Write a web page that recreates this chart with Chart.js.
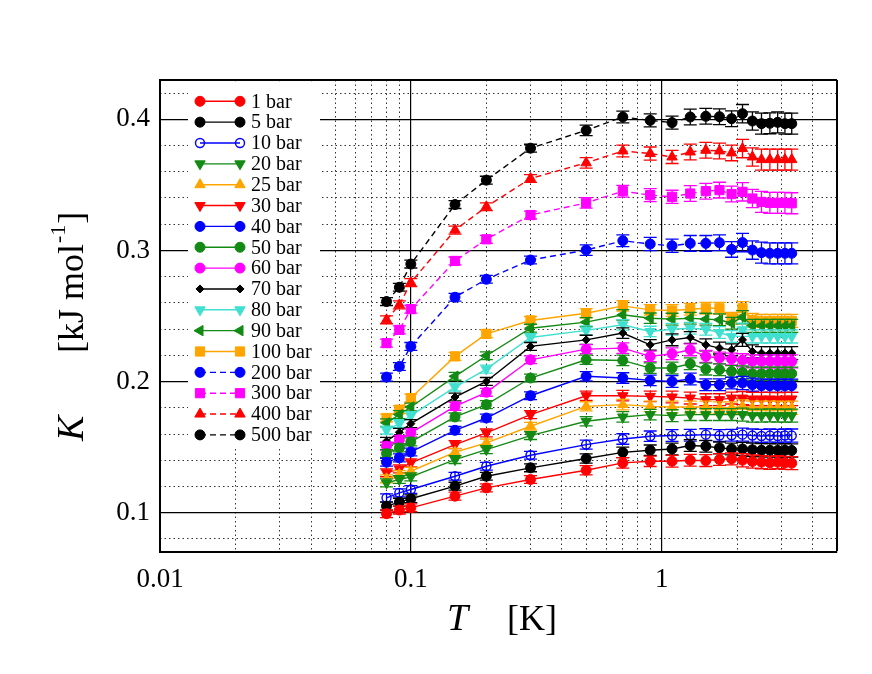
<!DOCTYPE html>
<html>
<head>
<meta charset="utf-8">
<title>K vs T</title>
<script src="https://cdn.jsdelivr.net/npm/chart.js@4.4.1/dist/chart.umd.min.js"></script>
<style>
  html, body { margin: 0; padding: 0; background: #fff; }
  #wrap { width: 872px; height: 674px; }
</style>
</head>
<body>
<div id="wrap"><canvas id="chart"></canvas></div>
<script>
// --- DATA ---
const temps = [0.08, 0.09, 0.1, 0.15, 0.2, 0.3, 0.5, 0.7, 0.9, 1.1, 1.3, 1.5, 1.7, 1.9, 2.1, 2.3, 2.5, 2.7, 2.9, 3.1, 3.3];

const pressures = ['1 bar', '5 bar', '10 bar', '20 bar', '25 bar', '30 bar', '40 bar', '50 bar', '60 bar',
                   '70 bar', '80 bar', '90 bar', '100 bar', '200 bar', '300 bar', '400 bar', '500 bar'];

const k1   = [0.0992, 0.102, 0.1037, 0.1126, 0.1189, 0.1253, 0.1324, 0.138, 0.1392, 0.1392, 0.140, 0.1397, 0.1405, 0.141, 0.140, 0.139, 0.1385, 0.138, 0.1385, 0.138, 0.1378];
const k5   = [0.105, 0.108, 0.1106, 0.1202, 0.1278, 0.1342, 0.1413, 0.146, 0.1476, 0.1486, 0.1512, 0.1507, 0.1494, 0.1486, 0.1486, 0.148, 0.1476, 0.1476, 0.1474, 0.1476, 0.1474];
const k10  = [0.1113, 0.1151, 0.1177, 0.1278, 0.1354, 0.1438, 0.1519, 0.1562, 0.1583, 0.1588, 0.159, 0.1595, 0.1588, 0.159, 0.1595, 0.1588, 0.1585, 0.1588, 0.1585, 0.1588, 0.1588];
const k20  = [0.1227, 0.1253, 0.1273, 0.1405, 0.1481, 0.1588, 0.1697, 0.173, 0.1748, 0.174, 0.1748, 0.1748, 0.1748, 0.1748, 0.1748, 0.174, 0.174, 0.1742, 0.174, 0.174, 0.174];
const k25  = [0.1258, 0.1291, 0.1316, 0.1461, 0.1532, 0.1659, 0.1811, 0.1824, 0.1811, 0.1806, 0.1806, 0.1806, 0.180, 0.180, 0.1811, 0.180, 0.180, 0.180, 0.180, 0.1798, 0.180];
const k30  = [0.1304, 0.1334, 0.138, 0.1519, 0.1608, 0.1748, 0.1892, 0.1892, 0.1887, 0.1882, 0.1874, 0.1862, 0.1862, 0.1874, 0.1874, 0.1867, 0.1867, 0.1867, 0.1865, 0.1867, 0.1867];
const k40  = [0.1385, 0.1418, 0.1463, 0.1628, 0.1722, 0.1892, 0.204, 0.2027, 0.2009, 0.2001, 0.2019, 0.1976, 0.1976, 0.1989, 0.1989, 0.1976, 0.1968, 0.1968, 0.1968, 0.1968, 0.1968];
const k50  = [0.1451, 0.1494, 0.154, 0.173, 0.1824, 0.2027, 0.2166, 0.2161, 0.2103, 0.2103, 0.2136, 0.2095, 0.209, 0.2077, 0.207, 0.206, 0.206, 0.206, 0.206, 0.206, 0.206];
const k60  = [0.1507, 0.1557, 0.1608, 0.1811, 0.1918, 0.2166, 0.2247, 0.2255, 0.2192, 0.2212, 0.2242, 0.2192, 0.218, 0.2172, 0.2162, 0.2154, 0.2154, 0.2154, 0.2154, 0.2154, 0.2154];
const k70  = [0.1545, 0.1613, 0.1679, 0.1882, 0.2001, 0.2268, 0.2318, 0.237, 0.228, 0.2318, 0.2336, 0.228, 0.2255, 0.2242, 0.2318, 0.223, 0.2217, 0.2217, 0.2217, 0.2217, 0.2217];
const k80  = [0.163, 0.168, 0.174, 0.1958, 0.2095, 0.2336, 0.239, 0.2433, 0.2382, 0.2399, 0.2407, 0.2399, 0.2374, 0.2344, 0.2395, 0.2344, 0.2344, 0.2344, 0.2344, 0.2344, 0.2344];
const k90  = [0.1685, 0.1748, 0.1806, 0.204, 0.2197, 0.2407, 0.2453, 0.2509, 0.2483, 0.2476, 0.2483, 0.2476, 0.2471, 0.2445, 0.2491, 0.2425, 0.2425, 0.2425, 0.2425, 0.2425, 0.2425];
const k100 = [0.1722, 0.1786, 0.1874, 0.2192, 0.2364, 0.2466, 0.2521, 0.2577, 0.2547, 0.2542, 0.2552, 0.2559, 0.2559, 0.2483, 0.2559, 0.247, 0.2463, 0.2463, 0.2463, 0.2463, 0.2463];
const k200 = [0.2034, 0.2115, 0.2268, 0.2643, 0.278, 0.2927, 0.3003, 0.3074, 0.3049, 0.3036, 0.3054, 0.3054, 0.3059, 0.3008, 0.306, 0.3003, 0.2983, 0.2978, 0.2978, 0.2978, 0.2978];
const k300 = [0.2293, 0.2394, 0.2552, 0.292, 0.3085, 0.327, 0.3363, 0.3452, 0.3422, 0.3409, 0.3434, 0.3452, 0.346, 0.343, 0.3447, 0.3396, 0.337, 0.3363, 0.3363, 0.3363, 0.336];
const k400 = [0.2471, 0.2585, 0.2755, 0.3155, 0.3333, 0.3549, 0.3668, 0.3759, 0.3739, 0.3713, 0.3751, 0.3764, 0.3759, 0.3744, 0.3777, 0.3713, 0.3693, 0.3693, 0.3693, 0.3693, 0.3693];
const k500 = [0.261, 0.2719, 0.2896, 0.335, 0.3536, 0.378, 0.3916, 0.4018, 0.3992, 0.3975, 0.4018, 0.4023, 0.402, 0.4005, 0.4043, 0.3987, 0.3967, 0.397, 0.3977, 0.3967, 0.3967];

// error bars (half width, kJ/mol) - low pressures and 200-500 bar
const errLow  = [0.003, 0.003, 0.003, 0.003, 0.003, 0.003, 0.0035, 0.004, 0.004, 0.0045, 0.0045, 0.0045, 0.0045, 0.0045, 0.005, 0.005, 0.005, 0.005, 0.005, 0.005, 0.005];
const errHigh = [0.003, 0.003, 0.003, 0.003, 0.003, 0.003, 0.004, 0.0045, 0.005, 0.005, 0.006, 0.006, 0.006, 0.006, 0.007, 0.007, 0.008, 0.008, 0.008, 0.008, 0.008];

const allK = [k1, k5, k10, k20, k25, k30, k40, k50, k60, k70, k80, k90, k100, k200, k300, k400, k500];

// axes
const xMajorTicks = [0.01, 0.1, 1, 5];
const xTickLabels = ['0.01', '0.1', '1', ''];
const xMinorTicks = [0.02, 0.03, 0.04, 0.05, 0.06, 0.07, 0.08, 0.09, 0.2, 0.3, 0.4, 0.5, 0.6, 0.7, 0.8, 0.9, 2, 3, 4];
const yMajorTicks = [0.07, 0.1, 0.2, 0.3, 0.4, 0.43];
const yTickLabels = ['', '0.1', '0.2', '0.3', '0.4', ''];
const yMinorTicks = [0.08, 0.12, 0.14, 0.16, 0.18, 0.22, 0.24, 0.26, 0.28, 0.32, 0.34, 0.36, 0.38, 0.42];

// --- STYLES ---
const RED = '#ff0000', BLACK = '#000000', BLUE = '#0000ff', GREEN = '#138a13',
      ORANGE = '#ffa500', MAGENTA = '#ff00ff', CYAN = '#40e0d0';
const SERIF = "'Liberation Serif', 'Times New Roman', serif";

const seriesStyle = [
  { color: RED,     style: 'circle',   radius: 5 },
  { color: BLACK,   style: 'circle',   radius: 5 },
  { color: BLUE,    style: 'circle',   radius: 4.5, open: true },
  { color: GREEN,   style: 'triangle', radius: 6, rot: 180 },
  { color: ORANGE,  style: 'triangle', radius: 6 },
  { color: RED,     style: 'triangle', radius: 6, rot: 180 },
  { color: BLUE,    style: 'circle',   radius: 5 },
  { color: GREEN,   style: 'circle',   radius: 5 },
  { color: MAGENTA, style: 'circle',   radius: 5 },
  { color: BLACK,   style: 'rectRot',  radius: 4 },
  { color: CYAN,    style: 'triangle', radius: 6, rot: 180 },
  { color: GREEN,   style: 'triangle', radius: 6, rot: 270 },
  { color: ORANGE,  style: 'rect',     radius: 6.5 },
  { color: BLUE,    style: 'circle',   radius: 5, dash: true },
  { color: MAGENTA, style: 'rect',     radius: 6.5, dash: true },
  { color: RED,     style: 'triangle', radius: 6, dash: true },
  { color: BLACK,   style: 'circle',   radius: 5, dash: true }
];

const datasets = allK.map((vals, i) => {
  const st = seriesStyle[i];
  return {
    label: pressures[i],
    data: temps.map((t, j) => ({ x: t, y: vals[j] })),
    errors: i >= 13 ? errHigh : errLow,
    borderColor: st.color,
    borderWidth: 1.4,
    borderDash: st.dash ? [6, 4] : [],
    pointStyle: st.style,
    pointRadius: st.radius,
    pointRotation: st.rot || 0,
    pointBackgroundColor: st.open ? 'rgba(255,255,255,0)' : st.color,
    pointBorderColor: st.color,
    pointBorderWidth: st.open ? 1.4 : 1,
    tension: 0,
    fill: false
  };
});

// --- PLUGINS ---
// error bars under each series' markers
const errorBars = {
  id: 'errorBars',
  beforeDatasetDraw(chart, args) {
    const ds = chart.data.datasets[args.index];
    const ys = chart.scales.y;
    const ctx = chart.ctx;
    ctx.save();
    ctx.strokeStyle = ds.borderColor;
    ctx.lineWidth = 1.3;
    ctx.setLineDash([]);
    args.meta.data.forEach((pt, j) => {
      const v = ds.data[j].y, e = ds.errors[j];
      const yt = ys.getPixelForValue(v + e), yb = ys.getPixelForValue(v - e);
      ctx.beginPath();
      ctx.moveTo(pt.x, yt); ctx.lineTo(pt.x, yb);
      ctx.moveTo(pt.x - 6.5, yt); ctx.lineTo(pt.x + 6.5, yt);
      ctx.moveTo(pt.x - 6.5, yb); ctx.lineTo(pt.x + 6.5, yb);
      ctx.stroke();
    });
    ctx.restore();
  }
};

// legend box in the upper left of the plot (white, covers grid)
const pressureLegend = {
  id: 'pressureLegend',
  beforeDatasetsDraw(chart) {
    const ctx = chart.ctx, a = chart.chartArea;
    const x0 = a.left + 28;
    ctx.save();
    ctx.fillStyle = '#fff';
    ctx.fillRect(x0, a.top + 1.5, 132, 366);
    chart.data.datasets.forEach((ds, i) => {
      const y = a.top + 21.3 + i * 20.85;
      ctx.strokeStyle = ds.borderColor;
      ctx.lineWidth = 1.4;
      ctx.setLineDash(ds.borderDash);
      ctx.beginPath();
      ctx.moveTo(x0 + 12, y); ctx.lineTo(x0 + 52, y);
      ctx.stroke();
      ctx.setLineDash([]);
      [x0 + 12, x0 + 52].forEach(px => {
        ctx.fillStyle = ds.pointBackgroundColor;
        ctx.strokeStyle = ds.pointBorderColor;
        ctx.lineWidth = ds.pointBorderWidth;
        Chart.helpers.drawPoint(ctx, {
          pointStyle: ds.pointStyle, radius: ds.pointRadius,
          rotation: ds.pointRotation, borderWidth: ds.pointBorderWidth
        }, px, y);
      });
      ctx.fillStyle = '#000';
      ctx.font = '20px ' + SERIF;
      ctx.textAlign = 'left';
      ctx.textBaseline = 'middle';
      ctx.fillText(ds.label, x0 + 63, y + 1);
    });
    ctx.restore();
  }
};

// axis titles with italic symbols and superscript
const axisTitles = {
  id: 'axisTitles',
  afterDraw(chart) {
    const ctx = chart.ctx, a = chart.chartArea;
    ctx.save();
    ctx.fillStyle = '#000';
    ctx.textBaseline = 'alphabetic';
    ctx.textAlign = 'left';
    // x title
    ctx.font = 'italic 38px ' + SERIF;
    ctx.fillText('T', a.left + 287, 630);
    ctx.font = '36px ' + SERIF;
    ctx.fillText('[K]', a.left + 347, 630);
    // y title (rotated)
    ctx.translate(83, 441);
    ctx.rotate(-Math.PI / 2);
    ctx.font = 'italic 38px ' + SERIF;
    ctx.fillText('K', 0, 0);
    ctx.font = '36px ' + SERIF;
    let x = 88;
    ctx.fillText('[kJ mol', x, 0);
    x += ctx.measureText('[kJ mol').width + 1;
    ctx.font = '22px ' + SERIF;
    ctx.fillText('-1', x, -18);
    x += ctx.measureText('-1').width + 1;
    ctx.font = '36px ' + SERIF;
    ctx.fillText(']', x, 0);
    ctx.restore();
  }
};

// --- CHART ---
const tickFont = { family: SERIF, size: 27 };

new Chart(document.getElementById('chart'), {
  type: 'line',
  data: { datasets },
  options: {
    responsive: true,
    maintainAspectRatio: false,
    animation: false,
    layout: { padding: { top: 80, right: 35, left: 0, bottom: 0 } },
    plugins: { legend: { display: false }, tooltip: { enabled: false } },
    scales: {
      x: {
        type: 'logarithmic', position: 'bottom', min: 0.01, max: 5,
        afterBuildTicks: s => { s.ticks = xMajorTicks.map(v => ({ value: v })); },
        afterFit: s => { s.height = 122; },
        grid: { color: '#000', lineWidth: c => (c.tick && c.tick.value === 5) ? 2 : 1.2, drawTicks: false },
        border: { color: '#000', width: 2 },
        ticks: {
          autoSkip: false, maxRotation: 0, color: '#000', font: tickFont, padding: 12,
          callback: v => xTickLabels[xMajorTicks.indexOf(v)]
        }
      },
      x2: {
        type: 'logarithmic', position: 'top', min: 0.01, max: 5,
        afterBuildTicks: s => { s.ticks = xMinorTicks.map(v => ({ value: v })); },
        afterFit: s => { s.height = 0; },
        grid: { color: '#333', lineWidth: 1, drawTicks: false },
        border: { display: false, dash: [1.5, 3] },
        ticks: { display: false }
      },
      y: {
        type: 'linear', position: 'left', min: 0.07, max: 0.43,
        afterBuildTicks: s => { s.ticks = yMajorTicks.map(v => ({ value: v })); },
        afterFit: s => { s.width = 160; },
        grid: { color: '#000', lineWidth: c => (c.tick && c.tick.value === 0.43) ? 2 : 1.2, drawTicks: false },
        border: { color: '#000', width: 2 },
        ticks: {
          autoSkip: false, color: '#000', font: tickFont, padding: 10,
          callback: v => yTickLabels[yMajorTicks.indexOf(v)]
        }
      },
      y2: {
        type: 'linear', position: 'right', min: 0.07, max: 0.43,
        afterBuildTicks: s => { s.ticks = yMinorTicks.map(v => ({ value: v })); },
        afterFit: s => { s.width = 0; },
        grid: { color: '#333', lineWidth: 1, drawTicks: false },
        border: { display: false, dash: [1.5, 3] },
        ticks: { display: false }
      }
    }
  },
  plugins: [errorBars, pressureLegend, axisTitles]
});
</script>
</body>
</html>
